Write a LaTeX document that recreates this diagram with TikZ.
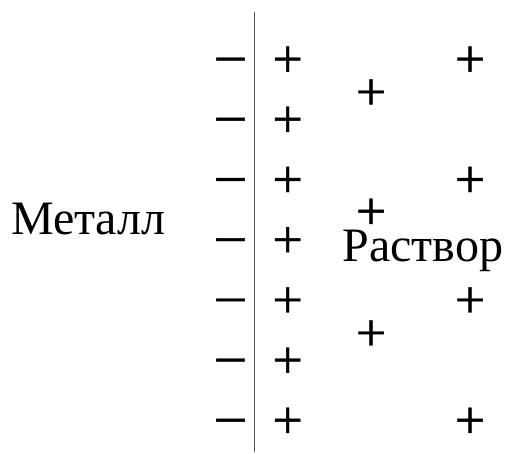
\documentclass[tikz,border=0pt]{standalone}
\usepackage{fontspec}
\setmainfont{Liberation Serif}
\begin{document}
\begin{tikzpicture}[x=1pt,y=-1pt,
  sign/.style={inner sep=0pt,outer sep=0pt,anchor=base,font=\fontsize{54}{64}\selectfont\addfontfeature{FakeBold=0.7}},
  lbl/.style={inner sep=0pt,outer sep=0pt,font=\fontsize{48}{58}\selectfont,anchor=base west}]
\useasboundingbox (0,0) rectangle (509,454);
\def\ax{17.5}
\coordinate (top) at (254.7,12);
\coordinate (bot) at (254.7,452);
\draw[line width=1.1pt,black!65] (top) -- (bot);
\foreach \i/\y in {1/59.5,2/119.7,3/179.9,4/240.1,5/300.3,6/360.5,7/420.7}{
  \node[sign] (m\i) at (230.5,\y+\ax) {\scalebox{1.12}[1]{−}};
  \node[sign] (p\i) at (287.7,\y+\ax) {+};
}
\foreach \i/\y in {1/92.3,2/211.7,3/333.3}{
  \node[sign] (q\i) at (371,\y+\ax) {+};
}
\foreach \i/\y in {1/59.5,2/179.9,3/300.3,4/420.7}{
  \node[sign] (r\i) at (470,\y+\ax) {+};
}
\node[lbl] (metal) at (11,235) {Металл};
\node[lbl] (sol) at (342.5,261.7) {Раствор};
\end{tikzpicture}
\end{document}
